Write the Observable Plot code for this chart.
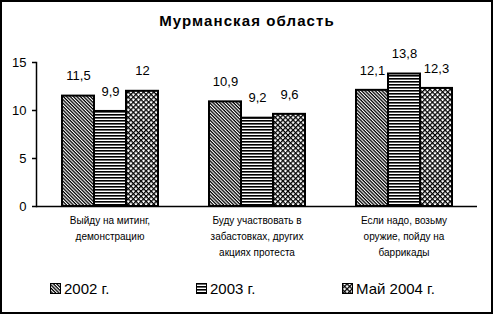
<!DOCTYPE html>
<html>
<head>
<meta charset="utf-8">
<script src="https://cdn.jsdelivr.net/npm/d3@7"></script>
<script src="https://cdn.jsdelivr.net/npm/@observablehq/plot@0.6"></script>
<style>
  html, body { margin: 0; padding: 0; background: #fff; }
  #wrap { position: relative; width: 494px; height: 316px; font-family: "Liberation Sans", Arial, sans-serif; color: #000; }
  #frame { position: absolute; left: 0; top: 0; width: 493px; height: 314px; box-sizing: border-box; border: 2px solid #000; background: #fff; }
  #title { position: absolute; left: 0; top: 12px; width: 494px; text-align: center; font-weight: bold; font-size: 15px; letter-spacing: 1.1px; }
  #chart { position: absolute; left: 0; top: 30px; }
  #legend { position: absolute; left: 50px; top: 280px; display: flex; font-size: 15px; }
  #legend .item { width: 146px; display: flex; align-items: center; }
  #legend svg { margin-right: 3px; }
</style>
</head>
<body>
<div id="wrap">
  <div id="frame"></div>
  <div id="title">Мурманская область</div>
  <div id="chart"></div>
  <div id="legend"></div>
</div>
<script>
const categories = [
  "Выйду на митинг,\nдемонстрацию",
  "Буду участвовать в\nзабастовках, других\nакциях протеста",
  "Если надо, возьму\nоружие, пойду на\nбаррикады"
];
const years = ["2002 г.", "2003 г.", "Май 2004 г."];
const values2002 = [11.5, 10.9, 12.1];
const values2003 = [9.9, 9.2, 13.8];
const values2004 = [12, 9.6, 12.3];
const yTicks = [0, 5, 10, 15];
const patternIds = ["p2002", "p2003", "p2004"];

const series = [values2002, values2003, values2004];
const data = [];
categories.forEach((c, i) => {
  years.forEach((yr, j) => data.push({category: c, year: yr, value: series[j][i]}));
});

const fmt = v => String(v).replace(".", ",");

const defs = `
<defs>
  <pattern id="p2002" patternUnits="userSpaceOnUse" width="4" height="2.4" patternTransform="rotate(45)">
    <rect width="4" height="2.4" fill="#fff"/>
    <rect width="4" height="1.3" fill="#000"/>
  </pattern>
  <pattern id="p2003" patternUnits="userSpaceOnUse" width="4" height="3">
    <rect width="4" height="3" fill="#fff"/>
    <rect width="4" height="1.6" fill="#000"/>
  </pattern>
  <pattern id="p2004" patternUnits="userSpaceOnUse" width="3.6" height="3.6" patternTransform="rotate(45)">
    <rect width="3.6" height="3.6" fill="#fff"/>
    <rect width="3.6" height="1.25" fill="#000"/>
    <rect width="1.25" height="3.6" fill="#000"/>
  </pattern>
</defs>`;

const chart = Plot.plot({
  width: 494,
  height: 235,
  marginLeft: 35,
  marginRight: 16,
  marginTop: 32,
  marginBottom: 59,
  style: {fontFamily: '"Liberation Sans", Arial, sans-serif', background: "transparent", color: "#000"},
  fx: {domain: categories, padding: 0, label: null},
  x: {domain: years, paddingInner: 0, paddingOuter: 0.76, axis: null},
  y: {domain: [0, 15], label: null},
  color: {domain: years, range: patternIds.map(id => `url(#${id})`)},
  marks: [
    Plot.axisY({ticks: yTicks, tickSize: 4, tickPadding: 6, fontSize: 13, label: null, stroke: "#000", strokeWidth: 1.5}),
    Plot.axisFx({anchor: "bottom", tickSize: 0, tickPadding: 6, fontSize: 10, lineHeight: 1.6, label: null}),
    Plot.frame({anchor: "left", facetAnchor: "left", stroke: "#000", strokeWidth: 1.5}),
    Plot.barY(data, {fx: "category", x: "year", y: "value", fill: "year", stroke: "#000", strokeWidth: 2}),
    Plot.ruleY([0], {stroke: "#000", strokeWidth: 1.5}),
    Plot.text(data, {fx: "category", x: "year", y: "value", text: d => fmt(d.value), dy: -20, fontSize: 13, fill: "#000"})
  ]
});
chart.insertAdjacentHTML("afterbegin", defs);
document.getElementById("chart").appendChild(chart);

const legend = document.getElementById("legend");
years.forEach((yr, j) => {
  const item = document.createElement("div");
  item.className = "item";
  item.innerHTML = `<svg width="11" height="11"><rect x="0.5" y="0.5" width="10" height="10" fill="url(#${patternIds[j]})" stroke="#000" stroke-width="1"/></svg><span>${yr}</span>`;
  legend.appendChild(item);
});
</script>
</body>
</html>
